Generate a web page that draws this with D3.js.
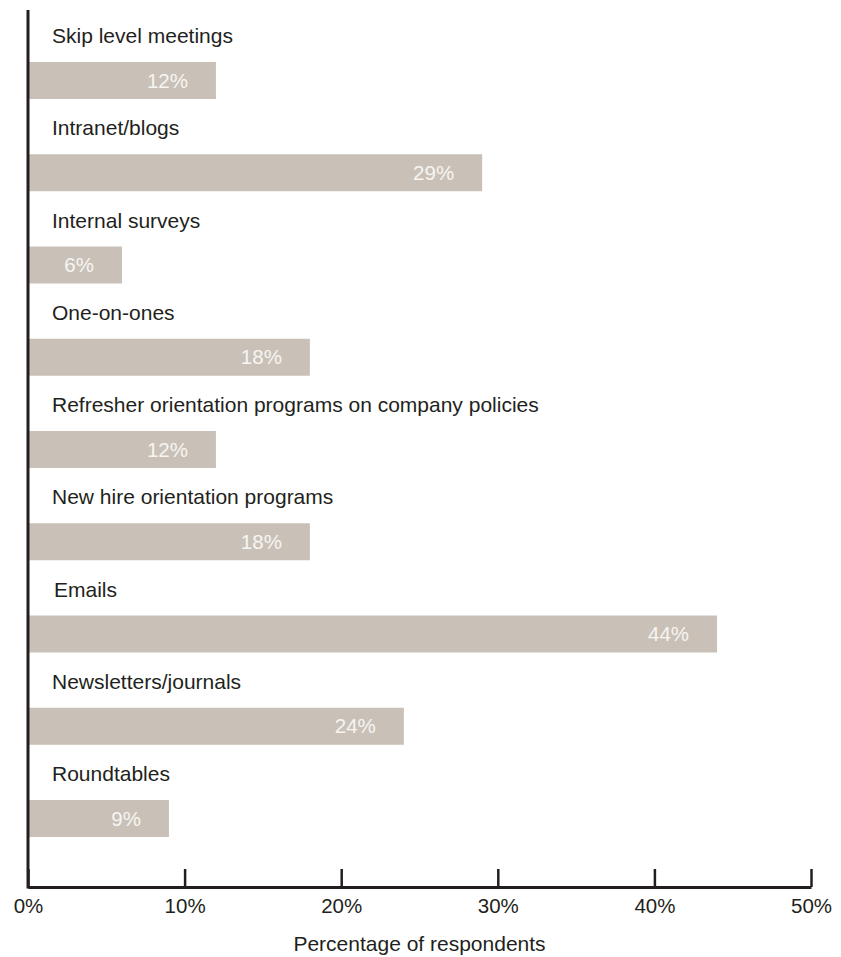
<!DOCTYPE html>
<html>
<head>
<meta charset="utf-8">
<script src="https://cdn.jsdelivr.net/npm/d3@7"></script>
<style>
  body { margin: 0; background: #fff; }
  svg { display: block; font-family: "Liberation Sans", Arial, sans-serif; }
  .cat-label { font-size: 21px; fill: #231f20; }
  .val-label { font-size: 20.5px; fill: #f7f5f2; }
  .x-axis text { font-size: 20.5px; fill: #231f20; font-family: "Liberation Sans", Arial, sans-serif; }
  .x-axis path, .x-axis line { stroke: #231f20; }
</style>
</head>
<body>
<div class="chart"></div>
<script>
// data
var categories = ["Skip level meetings", "Intranet/blogs", "Internal surveys", "One-on-ones",
  "Refresher orientation programs on company policies", "New hire orientation programs",
  "Emails", "Newsletters/journals", "Roundtables"];
var values = [12, 29, 6, 18, 12, 18, 44, 24, 9];
var tickValues = [0, 10, 20, 30, 40, 50];
var axisTitle = "Percentage of respondents";

var width = 841, height = 957;
var axisLeft = 28, axisRight = 811;
var axisY = 887, axisTop = 10;
var barH = 37;

var svg = d3.select(".chart").append("svg")
  .attr("width", width)
  .attr("height", height);

var x = d3.scaleLinear().domain([0, 50]).range([axisLeft, axisRight]);
var y = d3.scalePoint().domain(categories).range([62, 800]);

var rows = categories.map(function(c, i) { return {cat: c, val: values[i]}; });

var groups = svg.selectAll(".row")
  .data(rows)
  .enter()
  .append("g")
  .attr("class", "row");

groups.append("rect")
  .attr("x", x(0))
  .attr("y", function(d) { return y(d.cat); })
  .attr("width", function(d) { return x(d.val) - x(0); })
  .attr("height", barH)
  .attr("fill", "#c9c1b7");

groups.append("text")
  .attr("class", "cat-label")
  .attr("x", function(d) { return d.cat == "Emails" ? 54 : 52; })
  .attr("y", function(d) { return y(d.cat) - 19; })
  .text(function(d) { return d.cat; });

groups.append("text")
  .attr("class", "val-label")
  .attr("text-anchor", "end")
  .attr("x", function(d) { return x(d.val) - 28; })
  .attr("y", function(d) { return y(d.cat) + barH / 2 + 7; })
  .text(function(d) { return d.val + "%"; });

// x axis, ticks pointing up
var xAxis = d3.axisBottom(x)
  .tickValues(tickValues)
  .tickSizeInner(-18)
  .tickSizeOuter(0)
  .tickPadding(11)
  .tickFormat(function(d) { return d + "%"; });

var gx = svg.append("g")
  .attr("class", "x-axis")
  .attr("transform", "translate(0," + axisY + ")")
  .call(xAxis);
gx.select(".domain").attr("stroke-width", 3);
gx.selectAll(".tick line").attr("stroke-width", 2.5);

// y axis line
svg.append("line")
  .attr("x1", axisLeft).attr("x2", axisLeft)
  .attr("y1", axisTop).attr("y2", axisY + 1.5)
  .attr("stroke", "#231f20")
  .attr("stroke-width", 3);

svg.append("text")
  .attr("x", (axisLeft + axisRight) / 2)
  .attr("y", 951)
  .attr("text-anchor", "middle")
  .attr("font-size", 21)
  .attr("fill", "#231f20")
  .text(axisTitle);
</script>
</body>
</html>
